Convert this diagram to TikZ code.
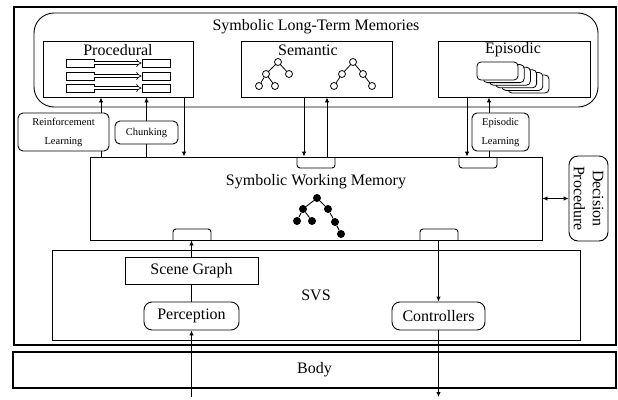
\documentclass[tikz,border=0pt]{standalone}
\usepackage{fontspec}
\setmainfont{Liberation Serif}
\usetikzlibrary{positioning,arrows.meta,calc}

\tikzset{
    box/.style={draw, line width=0.9pt, inner sep=0pt},
    rbox/.style={box, rounded corners=5pt, fill=white},
    bigtxt/.style={font=\fontsize{16}{19}\selectfont},
    smalltxt/.style={font=\fontsize{10.5}{19}\selectfont},
    arr/.style={line width=0.9pt, -{Latex[length=5pt,width=4.5pt]}},
    link/.style={line width=0.9pt},
    wnode/.style={circle, draw, fill=white, line width=0.8pt, inner sep=0pt, minimum size=7pt},
    bnode/.style={circle, fill=black, inner sep=0pt, minimum size=8pt}
}

\begin{document}
\begin{tikzpicture}[x=1pt, y=-1pt]
    \useasboundingbox (0,0) rectangle (618,399);
    % Frames
    \node[box, line width=1.8pt, minimum width=602pt, minimum height=338pt] (agent) at (315,176) {};
    \node[box, line width=1.8pt, minimum width=603pt, minimum height=36pt] (body) at (314.5,370) {};
    \node[bigtxt] (bodylbl) at (314.5,370) {Body};
    % Long-term memories
    \node[box, rounded corners=20pt, minimum width=564pt, minimum height=94pt] (ltm) at (316,60) {};
    \node[bigtxt] (ltmlbl) at (316,27) {Symbolic Long-Term Memories};
    \node[box, minimum width=150pt, minimum height=56pt] (proc) at (118,69) {};
    \node[bigtxt] (proclbl) at (118,50) {Procedural};
    \node[box, minimum width=151pt, minimum height=56pt] (sem) at (316.5,69) {};
    \node[bigtxt] (semlbl) at (308,50) {Semantic};
    \node[box, minimum width=152pt, minimum height=56pt] (epi) at (514,69) {};
    \node[bigtxt] (epilbl) at (513,50) {Episodic};
    % Rules
    \foreach \i/\y in {1/63,2/76,3/88} {
        \node[box, minimum width=28pt, minimum height=8pt] (pl\i) at (80,\y) {};
        \node[box, minimum width=28pt, minimum height=8pt] (pr\i) at (156,\y) {};
        \draw[double, double distance=2.2pt, line width=0.6pt, -{Implies}] (pl\i) -- (pr\i);
    }
    % Semantic trees
    \foreach \n/\x/\y in {a/278/62, b/266/74, c/289/74, d/259/86, e/275/86,
                          f/353/62, g/342/74, h/363/74, i/334/86, j/372/86}
        \node[wnode] (\n) at (\x,\y) {};
    \foreach \p/\c in {a/b, a/c, b/d, b/e, f/g, f/h, g/i, h/j}
        \draw[line width=0.8pt] (\p) -- (\c);
    % Episodes
    \foreach \i in {5,4,...,0}
        \draw[line width=0.8pt, rounded corners=4pt, fill=white] (477+6.2*\i, 62+2.6*\i) rectangle ++(41,18);
    % Working memory
    \node[box, minimum width=452pt, minimum height=83pt] (wm) at (316,198.5) {};
    \node[bigtxt] (wmlbl) at (316,182) {Symbolic Working Memory};
    \foreach \n/\x/\y in {r/317/198, s/303/209, t/328/209, u/297/221, v/312/221, w/335/222, z/341/234}
        \node[bnode] (\n) at (\x,\y) {};
    \foreach \p/\c in {r/s, r/t, s/u, s/v, t/w, w/z}
        \draw[line width=0.9pt] (\p) -- (\c);
    % Buffers
    \foreach \x in {297,459}
        \draw[link, rounded corners=3pt] (\x,157) -- (\x,168) -- (\x+38,168) -- (\x+38,157);
    \foreach \x in {173,420}
        \draw[link, rounded corners=3pt] (\x,240) -- (\x,229) -- (\x+38,229) -- (\x+38,240);
    % Learning
    \coordinate (rlx) at (101,0);
    \coordinate (pdx) at (184,0);
    \coordinate (sdx) at (304,0);
    \coordinate (sux) at (327,0);
    \coordinate (edx) at (467,0);
    \coordinate (eux) at (489,0);
    \draw[arr] (wm.north -| rlx) -- (proc.south -| rlx);
    \draw[arr] (wm.north -| eux) -- (epi.south -| eux);
    \node[rbox, smalltxt, minimum width=91pt, minimum height=38pt, align=center] (rl) at (63.5,132) {Reinforcement\\Learning};
    \node[rbox, smalltxt, minimum width=57pt, minimum height=38pt, align=center] (epl) at (500.5,132) {Episodic\\Learning};
    \node[rbox, smalltxt, minimum width=63pt, minimum height=23pt] (chunk) at (146.5,132.5) {Chunking};
    \draw[arr] (chunk.north) -- (proc.south -| chunk);
    \draw[link] (wm.north -| chunk) -- (chunk.south);
    % Retrieval
    \draw[arr] (proc.south -| pdx) -- (wm.north -| pdx);
    \draw[arr] (sem.south -| sdx) -- (wm.north -| sdx);
    \draw[arr] (wm.north -| sux) -- (sem.south -| sux);
    \draw[arr] (epi.south -| edx) -- (wm.north -| edx);
    % Decision
    \node[rbox, minimum width=39pt, minimum height=85pt, rounded corners=9pt] (dp) at (588.5,198.5) {};
    \node[bigtxt, rotate=-90, align=center] (dplbl) at (dp) {Decision\\Procedure};
    \draw[line width=0.9pt, {Latex[length=5pt,width=4.5pt]}-{Latex[length=5pt,width=4.5pt]}] (wm.east) -- (dp.west);
    % SVS
    \node[box, minimum width=528pt, minimum height=90pt] (svs) at (316,295) {};
    \node[bigtxt] (svslbl) at (316,295) {SVS};
    \node[box, bigtxt, minimum width=133pt, minimum height=27pt] (sg) at (191.5,270.5) {Scene Graph};
    \node[rbox, bigtxt, minimum width=95pt, minimum height=28pt, rounded corners=8pt] (perc) at (191.5,316) {Perception};
    \node[rbox, bigtxt, minimum width=93pt, minimum height=28pt, rounded corners=8pt] (ctrl) at (438.5,316) {Controllers};
    \coordinate (inp) at (191.5,397);
    \coordinate (outp) at (438.5,397);
    \draw[arr] (inp) -- (perc.south);
    \draw[link] (perc.north) -- (sg.south);
    \draw[arr] (sg.north) -- (sg.north |- wm.south);
    \draw[arr] (ctrl.north |- wm.south) -- (ctrl.north);
    \draw[arr] (ctrl.south) -- (outp);
\end{tikzpicture}
\end{document}
